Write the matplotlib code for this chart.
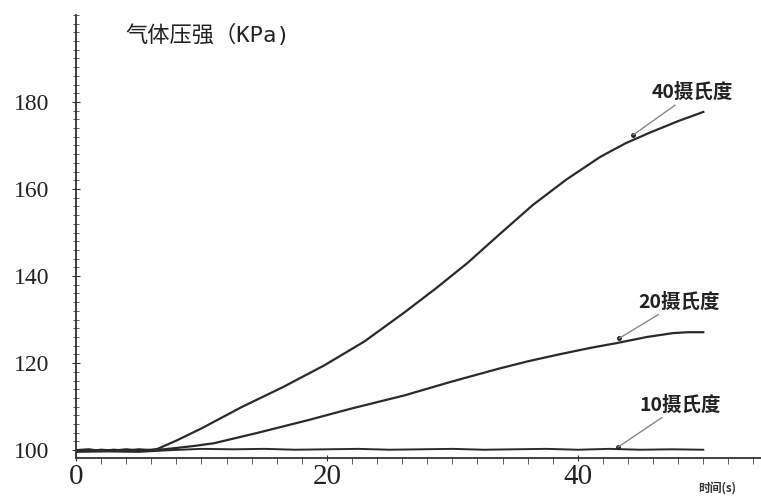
import matplotlib
matplotlib.use('Agg')
import matplotlib.pyplot as plt
from matplotlib.ticker import MultipleLocator

plt.rcParams['font.family'] = ['Noto Sans CJK SC', 'DejaVu Sans']

# time (s) and gas pressure (KPa)
t40 = [0, 1, 2, 3, 4, 5, 6, 6.5, 8, 10, 13.2, 16.5, 19.8, 23, 26.2, 28.7, 31.2, 33.8,
       36.4, 39.1, 41.8, 43.8, 45.7, 48, 50]
p40 = [100, 100.2, 99.8, 100.1, 99.9, 100.2, 100, 100.3, 102.2, 105, 109.9, 114.5,
       119.5, 125, 131.7, 137.2, 143, 149.7, 156.3, 162.2, 167.4, 170.5, 172.9, 175.6, 177.7]

t20 = [0, 1, 2, 3, 4, 5, 6, 7, 8, 9.5, 11, 14.5, 18.5, 22, 26.2, 30, 33.8, 36, 38.5,
       41, 43.1, 45.5, 47.6, 48.8, 50]
p20 = [100, 99.8, 100.1, 99.9, 100.2, 99.9, 100.1, 100.2, 100.5, 101, 101.6, 104, 106.9,
       109.6, 112.6, 115.8, 118.8, 120.4, 122, 123.5, 124.6, 126, 126.9, 127.1, 127.1]

t10 = [0, 2.5, 5, 7.5, 10, 12.5, 15, 17.5, 20, 22.5, 25, 27.5, 30, 32.5, 35, 37.5,
       40, 42.5, 45, 47.5, 50]
p10 = [99.6, 99.7, 99.6, 100.0, 100.3, 100.2, 100.3, 100.1, 100.2, 100.3, 100.1, 100.2,
       100.3, 100.1, 100.2, 100.3, 100.1, 100.3, 100.1, 100.2, 100.1]

labels = ['40摄氏度', '20摄氏度', '10摄氏度']
label_xy = [(44.4, 172.4), (43.3, 125.7), (43.2, 100.7)]
label_text = [(45.9, 182.1), (44.8, 134.0), (44.9, 110.3)]

fig = plt.figure(figsize=(7.61, 4.96), dpi=100)
ax = fig.add_axes([0.0999, 0.0766, 0.9001, 0.8934])

col = '#2a2a2a'
ax.plot(t40, p40, color=col, lw=1.6)
ax.plot(t20, p20, color=col, lw=1.6)
ax.plot(t10, p10, color=col, lw=1.4)

for lab, xy, xt in zip(labels, label_xy, label_text):
    ax.annotate(lab, xy=xy, xytext=xt, fontsize=14, fontweight='bold', color='#222',
                va='center', ha='left',
                arrowprops=dict(arrowstyle='-', color='#888', lw=1, shrinkA=0, shrinkB=0))
    ax.plot([xy[0]], [xy[1]], 'o', color='#222', ms=2.5)

ax.set_xlim(0, 54.6)
ax.set_ylim(98.2, 200)

ax.spines['top'].set_visible(False)
ax.spines['right'].set_visible(False)
ax.spines['left'].set_color('#333')
ax.spines['bottom'].set_color('#333')
ax.spines['left'].set_linewidth(1.3)
ax.spines['bottom'].set_linewidth(1.3)

ax.xaxis.set_major_locator(MultipleLocator(20))
ax.xaxis.set_minor_locator(MultipleLocator(2))
ax.yaxis.set_minor_locator(MultipleLocator(2))
ax.set_yticks([100, 120, 140, 160, 180])

ax.tick_params(axis='x', which='major', length=5, direction='inout', pad=2, colors='#333',
               labelsize=21)
ax.tick_params(axis='x', which='minor', length=4, direction='out', colors='#444')
ax.tick_params(axis='y', which='major', length=6, direction='inout', pad=16, colors='#333',
               labelsize=17)
ax.tick_params(axis='y', which='minor', length=4, direction='inout', colors='#444')
for t in ax.get_xticklabels():
    t.set_family('Liberation Serif')
    t.set_color('#222')
for t in ax.get_yticklabels():
    t.set_family('Liberation Serif')
    t.set_color('#222')

ax.text(3.9, 195.4, '气体压强（KPa)', fontsize=16, va='center', ha='left', color='#222',
        family=['DejaVu Sans Mono', 'Noto Sans CJK SC'])
ax.text(49.6, 91.2, '时间(s)', fontsize=8.5, va='center', ha='left', color='#333',
        fontweight='bold', clip_on=False)

fig.savefig('out.png', dpi=100)
